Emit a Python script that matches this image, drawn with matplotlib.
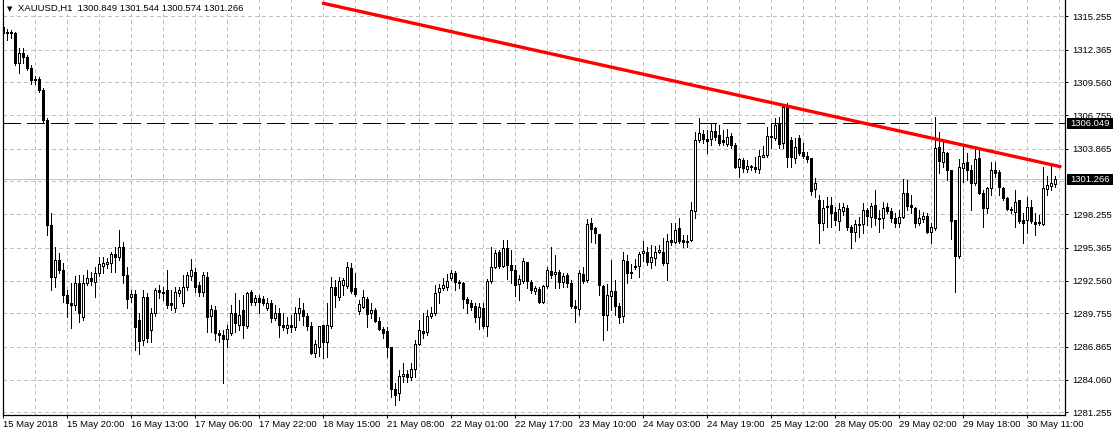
import numpy as np
import matplotlib
matplotlib.use("Agg")
import matplotlib.pyplot as plt
from matplotlib.patches import Rectangle
from matplotlib.transforms import blended_transform_factory

# XAUUSD H1 candles (oldest first)
opens = [
    1314.32, 1313.80, 1313.89, 1313.80, 1311.22, 1312.08, 1311.74, 1310.79,
    1309.77, 1309.86, 1308.91, 1306.34, 1297.33, 1292.87, 1294.32, 1293.47,
    1291.32, 1290.63, 1290.46, 1292.35, 1289.43, 1292.35, 1292.78, 1292.44,
    1293.21, 1293.81, 1293.98, 1294.07, 1294.84, 1294.58, 1295.44, 1293.04,
    1291.15, 1291.41, 1289.18, 1287.46, 1291.15, 1288.32, 1289.77, 1291.75,
    1291.58, 1291.75, 1290.63, 1290.20, 1291.49, 1290.63, 1292.01, 1292.95,
    1293.30, 1292.18, 1291.58, 1292.87, 1289.52, 1290.03, 1288.06, 1287.89,
    1287.55, 1288.06, 1289.77, 1288.75, 1290.03, 1288.66, 1291.58, 1290.72,
    1291.06, 1290.98, 1290.20, 1290.63, 1289.35, 1289.77, 1288.75, 1288.49,
    1288.75, 1288.58, 1289.77, 1290.03, 1289.52, 1288.66, 1286.34, 1286.86,
    1288.75, 1287.29, 1288.66, 1292.01, 1291.15, 1292.18, 1292.09, 1293.64,
    1291.92, 1289.95, 1290.29, 1290.98, 1289.77, 1290.03, 1289.09, 1288.41,
    1288.23, 1286.86, 1283.26, 1282.91, 1284.37, 1284.54, 1284.29, 1284.97,
    1287.12, 1288.23, 1288.15, 1289.52, 1289.77, 1291.58, 1291.92, 1292.01,
    1292.78, 1293.21, 1292.44, 1292.35, 1290.98, 1290.63, 1290.38, 1289.43,
    1290.20, 1288.66, 1292.52, 1293.73, 1295.01, 1293.81, 1295.35, 1293.89,
    1293.47, 1292.27, 1292.52, 1294.15, 1292.44, 1291.66, 1291.84, 1290.72,
    1292.09, 1293.38, 1293.12, 1293.30, 1292.44, 1293.04, 1292.35, 1290.38,
    1290.12, 1293.12, 1292.61, 1297.50, 1297.07, 1296.56, 1292.09, 1289.61,
    1291.24, 1291.66, 1290.38, 1289.52, 1294.24, 1293.30, 1293.81, 1293.81,
    1294.92, 1295.01, 1294.15, 1294.49, 1295.01, 1295.01, 1294.07, 1296.04,
    1295.87, 1297.07, 1296.04, 1295.95, 1296.04, 1298.53, 1304.62, 1305.13,
    1304.71, 1304.71, 1305.39, 1305.05, 1304.62, 1304.28, 1304.96, 1304.19,
    1302.30, 1302.90, 1302.13, 1302.39, 1302.30, 1302.13, 1303.16, 1303.33,
    1304.96, 1304.79, 1306.08, 1304.36, 1307.62, 1304.62, 1303.07, 1304.79,
    1303.59, 1303.25, 1303.07, 1300.41, 1299.47, 1297.50, 1298.87, 1299.04,
    1298.44, 1297.67, 1298.53, 1298.79, 1297.16, 1296.73, 1297.41, 1297.41,
    1298.61, 1298.01, 1299.04, 1297.93, 1297.93, 1298.87, 1298.53, 1297.93,
    1297.50, 1298.01, 1300.07, 1299.04, 1298.79, 1297.50, 1297.84, 1298.10,
    1296.73, 1297.07, 1304.02, 1302.73, 1303.50, 1302.05, 1297.76, 1294.67,
    1302.22, 1302.73, 1302.05, 1300.93, 1303.07, 1300.07, 1298.79, 1300.50,
    1302.05, 1301.87, 1300.50, 1299.64, 1298.70, 1298.44, 1299.47, 1297.76,
    1297.76, 1298.87, 1297.59, 1297.59, 1297.41, 1300.41, 1300.67, 1300.849,
]
closes = [
    1313.80, 1313.89, 1313.80, 1311.22, 1312.08, 1311.74, 1310.79, 1309.77,
    1309.86, 1308.91, 1306.34, 1297.33, 1292.87, 1294.32, 1293.47, 1291.32,
    1290.63, 1290.46, 1292.35, 1289.77, 1292.35, 1292.78, 1292.52, 1293.21,
    1293.98, 1294.07, 1294.15, 1294.84, 1294.58, 1295.44, 1293.04, 1290.98,
    1291.41, 1288.58, 1287.37, 1291.15, 1287.63, 1289.77, 1291.75, 1291.58,
    1291.49, 1290.46, 1290.46, 1291.58, 1291.75, 1292.01, 1293.04, 1293.47,
    1292.01, 1291.58, 1293.04, 1289.43, 1290.12, 1288.06, 1287.89, 1287.55,
    1288.41, 1289.77, 1288.92, 1289.61, 1288.75, 1291.49, 1290.72, 1291.06,
    1290.72, 1290.63, 1290.63, 1289.35, 1289.77, 1288.75, 1288.58, 1288.75,
    1288.58, 1289.77, 1290.20, 1289.52, 1288.66, 1286.34, 1287.12, 1288.66,
    1287.29, 1288.75, 1292.01, 1291.32, 1292.52, 1292.61, 1293.73, 1291.66,
    1291.41, 1290.55, 1291.15, 1289.69, 1290.03, 1289.09, 1288.41, 1288.06,
    1286.86, 1283.26, 1282.74, 1284.37, 1284.54, 1284.29, 1284.97, 1287.12,
    1288.32, 1288.06, 1289.52, 1289.77, 1291.49, 1291.92, 1292.18, 1292.52,
    1293.21, 1292.44, 1292.35, 1290.98, 1290.63, 1290.29, 1289.43, 1290.29,
    1288.66, 1292.52, 1293.73, 1294.92, 1293.81, 1295.35, 1293.89, 1293.47,
    1292.18, 1292.69, 1294.24, 1292.52, 1291.75, 1291.92, 1290.72, 1292.09,
    1293.47, 1293.04, 1293.30, 1292.44, 1292.95, 1292.35, 1290.38, 1290.20,
    1293.21, 1292.52, 1297.41, 1296.98, 1296.64, 1292.18, 1289.61, 1291.32,
    1291.66, 1290.38, 1289.43, 1294.32, 1293.21, 1293.21, 1293.73, 1294.84,
    1295.10, 1294.15, 1294.58, 1295.01, 1295.18, 1294.07, 1295.95, 1295.87,
    1296.90, 1295.95, 1295.87, 1295.87, 1298.61, 1304.62, 1305.22, 1304.71,
    1304.53, 1305.39, 1304.88, 1304.36, 1304.45, 1304.88, 1304.19, 1302.30,
    1302.99, 1302.22, 1302.39, 1302.30, 1302.13, 1303.25, 1303.33, 1304.96,
    1304.88, 1305.91, 1304.28, 1307.45, 1303.16, 1303.16, 1304.02, 1303.50,
    1303.25, 1302.99, 1300.24, 1300.93, 1297.50, 1298.79, 1298.96, 1298.36,
    1297.76, 1298.70, 1298.87, 1297.16, 1296.73, 1297.41, 1297.33, 1298.61,
    1298.10, 1298.96, 1297.93, 1297.84, 1298.79, 1298.53, 1297.93, 1297.50,
    1298.01, 1300.07, 1298.96, 1298.87, 1297.50, 1297.93, 1298.10, 1296.73,
    1297.16, 1303.93, 1302.82, 1303.59, 1302.05, 1297.67, 1294.67, 1302.30,
    1302.65, 1302.05, 1300.93, 1302.99, 1300.07, 1298.79, 1300.50, 1302.05,
    1301.79, 1300.59, 1299.64, 1298.70, 1298.62, 1299.30, 1297.67, 1297.50,
    1298.87, 1297.67, 1297.41, 1297.50, 1300.50, 1300.76, 1300.93, 1301.266,
]
highs = [
    1314.65, 1314.14, 1314.06, 1313.89, 1312.51, 1312.51, 1311.91, 1311.05,
    1310.11, 1310.03, 1309.08, 1306.51, 1298.36, 1295.44, 1294.92, 1294.07,
    1291.75, 1292.35, 1292.95, 1293.04, 1293.04, 1293.47, 1293.30, 1293.73,
    1294.58, 1294.58, 1294.49, 1295.01, 1295.44, 1296.90, 1295.87, 1293.73,
    1291.75, 1291.75, 1289.77, 1291.75, 1291.49, 1290.20, 1291.92, 1292.18,
    1292.01, 1293.47, 1291.75, 1292.01, 1292.01, 1293.04, 1293.30, 1294.41,
    1293.64, 1292.44, 1293.30, 1293.30, 1290.46, 1290.38, 1288.32, 1288.32,
    1288.75, 1290.46, 1291.49, 1290.89, 1291.32, 1291.58, 1291.75, 1291.32,
    1291.32, 1291.24, 1291.06, 1290.89, 1290.46, 1290.20, 1289.77, 1289.43,
    1289.61, 1290.29, 1291.06, 1290.63, 1289.77, 1289.01, 1287.46, 1288.66,
    1288.75, 1290.63, 1292.87, 1292.61, 1292.87, 1292.78, 1294.15, 1294.07,
    1293.21, 1290.89, 1291.75, 1291.15, 1290.63, 1290.20, 1289.43, 1288.58,
    1288.58, 1286.86, 1283.77, 1284.89, 1285.49, 1284.89, 1285.49, 1287.46,
    1289.18, 1289.77, 1290.03, 1290.29, 1292.18, 1292.27, 1292.78, 1293.12,
    1293.47, 1293.38, 1292.61, 1292.44, 1291.15, 1290.89, 1290.63, 1290.63,
    1290.63, 1292.69, 1295.44, 1295.18, 1295.18, 1296.04, 1296.04, 1295.18,
    1293.89, 1293.04, 1294.49, 1294.15, 1292.61, 1292.09, 1292.01, 1292.18,
    1293.73, 1295.44, 1294.75, 1293.47, 1293.21, 1293.21, 1292.61, 1290.89,
    1293.47, 1293.73, 1297.84, 1297.93, 1297.16, 1296.56, 1292.18, 1292.27,
    1294.32, 1292.61, 1290.63, 1295.01, 1294.75, 1293.98, 1294.41, 1295.01,
    1295.95, 1295.44, 1295.61, 1295.52, 1295.61, 1296.21, 1296.56, 1297.50,
    1297.50, 1297.93, 1296.47, 1296.47, 1299.30, 1305.31, 1306.51, 1305.48,
    1305.48, 1306.08, 1306.08, 1305.91, 1305.48, 1305.56, 1305.22, 1304.36,
    1303.07, 1303.07, 1302.90, 1302.47, 1303.16, 1303.76, 1304.10, 1305.74,
    1306.08, 1306.51, 1306.59, 1307.62, 1307.79, 1304.88, 1304.79, 1305.05,
    1304.36, 1303.59, 1303.07, 1301.36, 1299.90, 1299.47, 1299.73, 1299.73,
    1298.87, 1299.21, 1299.21, 1299.04, 1297.33, 1297.76, 1298.01, 1299.21,
    1298.79, 1299.21, 1300.33, 1298.61, 1299.30, 1299.21, 1298.79, 1298.36,
    1298.61, 1301.27, 1301.19, 1299.90, 1298.87, 1298.61, 1298.44, 1298.36,
    1297.50, 1306.59, 1305.31, 1304.62, 1303.59, 1302.05, 1297.76, 1302.99,
    1304.19, 1303.50, 1302.47, 1304.02, 1303.76, 1300.33, 1300.59, 1302.73,
    1302.73, 1302.05, 1300.59, 1299.73, 1298.87, 1300.33, 1299.47, 1298.36,
    1299.73, 1299.47, 1298.36, 1298.18, 1302.30, 1301.53, 1302.47, 1301.544,
]
lows = [
    1313.46, 1313.20, 1313.37, 1311.05, 1310.36, 1311.22, 1310.62, 1309.43,
    1309.43, 1308.74, 1306.17, 1296.47, 1291.75, 1292.01, 1293.21, 1290.72,
    1289.43, 1288.49, 1290.03, 1289.01, 1289.18, 1292.18, 1292.18, 1291.15,
    1292.95, 1293.21, 1293.64, 1293.30, 1293.30, 1294.32, 1292.35, 1290.20,
    1290.72, 1286.60, 1286.26, 1287.03, 1287.29, 1287.29, 1289.52, 1291.06,
    1290.89, 1290.20, 1290.03, 1289.86, 1291.24, 1290.38, 1291.75, 1292.61,
    1291.58, 1291.24, 1291.24, 1288.15, 1288.15, 1287.46, 1287.29, 1283.77,
    1286.86, 1287.89, 1288.15, 1288.32, 1287.63, 1288.49, 1290.46, 1290.46,
    1289.77, 1290.46, 1290.03, 1289.01, 1289.18, 1287.72, 1288.32, 1288.06,
    1288.15, 1288.32, 1289.18, 1288.75, 1288.32, 1286.26, 1286.00, 1286.09,
    1285.92, 1286.00, 1288.49, 1290.29, 1290.89, 1291.32, 1291.92, 1291.49,
    1291.24, 1289.69, 1290.20, 1288.58, 1289.35, 1289.01, 1288.32, 1287.63,
    1286.00, 1282.57, 1281.88, 1282.31, 1283.86, 1283.86, 1284.03, 1284.29,
    1287.03, 1287.63, 1287.89, 1289.35, 1289.61, 1290.63, 1291.75, 1291.75,
    1292.61, 1291.75, 1291.92, 1290.20, 1289.77, 1290.03, 1289.01, 1288.41,
    1288.49, 1287.80, 1292.35, 1293.64, 1293.64, 1293.73, 1292.69, 1292.35,
    1291.24, 1290.89, 1292.35, 1291.92, 1291.49, 1291.41, 1290.63, 1290.63,
    1291.92, 1292.78, 1291.92, 1291.92, 1292.01, 1292.01, 1290.20, 1289.01,
    1289.61, 1292.35, 1292.44, 1295.87, 1295.78, 1291.32, 1287.46, 1288.32,
    1290.03, 1289.61, 1288.92, 1289.01, 1292.35, 1292.78, 1293.55, 1292.87,
    1294.24, 1293.89, 1293.64, 1293.89, 1294.92, 1293.89, 1292.61, 1295.61,
    1295.78, 1295.78, 1295.44, 1295.44, 1295.95, 1297.93, 1304.45, 1304.36,
    1303.50, 1304.19, 1304.62, 1304.19, 1304.19, 1304.10, 1303.93, 1302.22,
    1301.45, 1301.87, 1301.87, 1302.05, 1301.87, 1301.79, 1303.16, 1303.16,
    1303.93, 1304.62, 1303.93, 1303.93, 1302.30, 1302.30, 1302.65, 1303.33,
    1303.07, 1302.73, 1299.90, 1299.73, 1295.78, 1296.90, 1297.16, 1297.16,
    1297.33, 1296.90, 1298.18, 1296.90, 1295.35, 1295.95, 1296.30, 1296.64,
    1297.33, 1297.16, 1297.33, 1296.73, 1297.07, 1298.36, 1297.59, 1297.16,
    1297.16, 1297.93, 1298.61, 1298.36, 1297.16, 1297.33, 1297.59, 1296.64,
    1295.78, 1296.90, 1301.79, 1302.30, 1301.19, 1296.13, 1291.58, 1294.49,
    1301.02, 1301.19, 1298.61, 1300.76, 1299.99, 1297.16, 1298.36, 1299.90,
    1301.45, 1299.90, 1299.47, 1298.61, 1298.36, 1297.16, 1297.50, 1295.78,
    1296.64, 1297.50, 1296.47, 1297.33, 1297.33, 1299.90, 1300.33, 1300.574,
]

time_labels = ["15 May 2018", "15 May 20:00", "16 May 13:00", "17 May 06:00",
               "17 May 22:00", "18 May 15:00", "21 May 08:00", "22 May 01:00",
               "22 May 17:00", "23 May 10:00", "24 May 03:00", "24 May 19:00",
               "25 May 12:00", "28 May 05:00", "29 May 02:00", "29 May 18:00",
               "30 May 11:00"]
label_every = 16
grid_every = 8

price_ticks = [1315.255, 1312.365, 1309.560, 1306.755, 1303.865, 1298.255,
               1295.365, 1292.560, 1289.755, 1286.865, 1284.060, 1281.255]
price_grid = price_ticks + [1301.06]

level = 1306.049
bid = 1301.266
trend_x = [79.75, 264.6]
trend_y = [1316.37, 1302.31]
header = "XAUUSD,H1  1300.849 1301.544 1300.574 1301.266"

plt.rcParams['font.family'] = ['Liberation Sans', 'DejaVu Sans']
fs = 6.8

W, H = 1113, 436
fig = plt.figure(figsize=(W / 100, H / 100), dpi=100)
ax = fig.add_axes([2.6 / W, 21.5 / H, 1061.9 / W, 414.5 / H])

o = np.array(opens)
c = np.array(closes)
idx = np.arange(len(c))
up = c >= o

# grid
gc = '#c0c0c0'
for g in range(grid_every, len(c) + 1, grid_every):
    ax.axvline(g, color=gc, lw=0.72, ls=(0, (4, 4)), zorder=1, antialiased=False)
for p in price_grid:
    ax.axhline(p, color=gc, lw=0.72, ls=(0, (4, 4)), zorder=1, antialiased=False)

ax.axhline(bid, color=gc, lw=0.72, zorder=1.5, antialiased=False)
ax.axhline(level, color='black', lw=0.72, ls=(0, (17, 6)), zorder=2, antialiased=False)

# candles
ax.vlines(idx, lows, highs, color='black', lw=0.72, zorder=3, antialiased=False)
ax.bar(idx[up], (c - o)[up], bottom=o[up], width=0.55, color='white',
       edgecolor='black', lw=0.72, zorder=4, antialiased=False)
ax.bar(idx[~up], (o - c)[~up], bottom=c[~up], width=0.55, color='black',
       edgecolor='black', lw=0.72, zorder=4, antialiased=False)

ax.plot(trend_x, trend_y, color='#ff0000', lw=2.4, solid_capstyle='butt', zorder=6)

ax.set_xlim(-0.1, 265.375)
ax.set_ylim(1281.066, 1316.628)

ax.set_xticks(np.arange(len(time_labels)) * label_every)
ax.set_xticklabels(time_labels, ha='left')
ax.yaxis.tick_right()
ax.set_yticks(price_ticks)
ax.set_yticklabels([f"{p:.3f}" for p in price_ticks])
ax.tick_params(axis='x', length=2.2, width=0.72, pad=2, labelsize=fs, colors='black')
ax.tick_params(axis='y', length=2.2, width=0.72, pad=3.4, labelsize=fs, colors='black')

for s in ['left', 'right', 'bottom']:
    ax.spines[s].set_linewidth(0.9)
    ax.spines[s].set_color('black')
ax.spines['top'].set_visible(False)

# price boxes on the right scale
tr = blended_transform_factory(ax.transAxes, ax.transData)
box_w = 47 / 1061.9
for val in [level, bid]:
    ax.add_patch(Rectangle((1 + 2.5 / 1061.9, val - 0.47), box_w, 0.94,
                           transform=tr, facecolor='black', edgecolor='none',
                           clip_on=False, zorder=10))
    ax.text(1 + 6 / 1061.9, val, f"{val:.3f}", transform=tr, color='white',
            fontsize=fs, ha='left', va='center', clip_on=False, zorder=11)

# header
fig.patches.append(Rectangle((3.5 / W, 1 - 14 / H), 238 / W, 14 / H,
                             transform=fig.transFigure, facecolor='white',
                             edgecolor='none', zorder=5))
fig.text(6.5 / W, 1 - 9 / H, "\u25bc", fontsize=5, family='DejaVu Sans',
         va='center', ha='left', zorder=6)
fig.text(18 / W, 1 - 8.5 / H, header, fontsize=fs, va='center', ha='left', zorder=6)

fig.savefig("out.png", dpi=100)
